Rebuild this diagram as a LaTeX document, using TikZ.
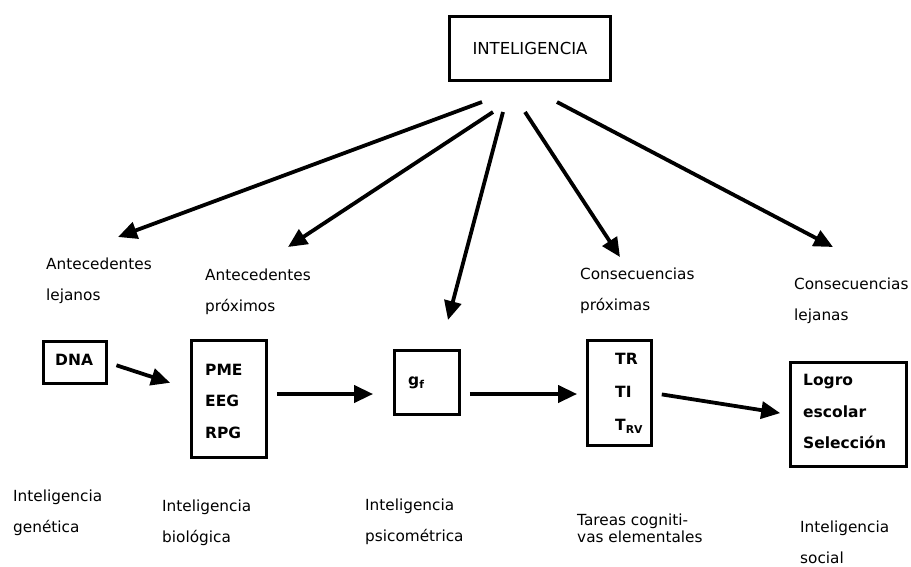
\documentclass[tikz,border=0pt]{standalone}
\usepackage{fontspec}
\setmainfont{DejaVu Sans}
\usetikzlibrary{arrows.meta}
\tikzset{
  frame/.style={rectangle, draw=black, line width=2.8pt, inner sep=0pt},
  boxtext/.style={anchor=west, inner sep=0pt, align=left, font=\bfseries\fontsize{15.5}{31.5}\selectfont},
  remark/.style={anchor=west, inner sep=0pt, align=left, font=\fontsize{15.3}{31}\selectfont},
  arrow/.style={-{Triangle[length=19pt, width=17pt]}, line width=3.8pt, draw=black}
}
\begin{document}
\begin{tikzpicture}[x=1pt, y=-1pt]
\useasboundingbox (0,0) rectangle (911,566);
\node[frame, minimum width=161pt, minimum height=64pt, font=\fontsize{16.5}{17}\selectfont] (intel) at (530,48.5) {INTELIGENCIA};
\node[frame, minimum width=63pt, minimum height=42pt] (dna) at (75,362.5) {};
\node[frame, minimum width=75pt, minimum height=117pt] (pme) at (229,399) {};
\node[frame, minimum width=65pt, minimum height=64pt] (gf) at (427,382.5) {};
\node[frame, minimum width=64pt, minimum height=105pt] (tr) at (619.5,393) {};
\node[frame, minimum width=116pt, minimum height=104pt] (logro) at (848.5,414.5) {};
\node[boxtext] (dnatext) at (55,360) {DNA};
\node[boxtext] (pmetext) at (205,401) {PME\\EEG\\RPG};
\node[boxtext] (gftext) at (408,383) {g\textsubscript{f}};
\node[boxtext, font=\bfseries\fontsize{15.5}{33}\selectfont] (trtext) at (615,393.5) {TR\\TI\\T\textsubscript{RV}};
\node[boxtext] (logrotext) at (803,411.5) {Logro\\escolar\\Selección};
\node[remark] (antlej) at (46,281) {Antecedentes\\lejanos};
\node[remark] (antprox) at (205,292) {Antecedentes\\próximos};
\node[remark] (conprox) at (580,291) {Consecuencias\\próximas};
\node[remark] (conlej) at (794,301) {Consecuencias\\lejanas};
\node[remark] (genet) at (13,512.5) {Inteligencia\\genética};
\node[remark] (biol) at (162,522.5) {Inteligencia\\biológica};
\node[remark] (psico) at (365,522) {Inteligencia\\psicométrica};
\node[remark, font=\fontsize{15.3}{17}\selectfont] (tareas) at (577,528.5) {Tareas cogniti-\\vas elementales};
\node[remark] (social) at (800,542) {Inteligencia\\social};
\coordinate (src1) at (482,102);
\coordinate (src2) at (493,112);
\coordinate (src3) at (503,112);
\coordinate (src4) at (525,112);
\coordinate (src5) at (557,102);
\coordinate (tip1) at (118,237);
\coordinate (tip2) at (288,247);
\coordinate (tip3) at (448,320);
\coordinate (tip4) at (620,257);
\coordinate (tip5) at (833,247);
\draw[arrow] (src1) -- (tip1);
\draw[arrow] (src2) -- (tip2);
\draw[arrow] (src3) -- (tip3);
\draw[arrow] (src4) -- (tip4);
\draw[arrow] (src5) -- (tip5);
\draw[arrow, shorten <=9pt, shorten >=21pt] (dna.east) -- (pme.166);
\draw[arrow, shorten <=9pt, shorten >=20pt] ([yshift=5pt]pme.east) -- ([yshift=5pt]pme.east -| gf.west);
\draw[arrow, shorten <=9pt, shorten >=9pt] ([yshift=-11.5pt]gf.east) -- ([yshift=-11.5pt]gf.east -| tr.west);
\draw[arrow, shorten <=9pt, shorten >=9pt] (tr.east) -- (logro.west);
\end{tikzpicture}
\end{document}
